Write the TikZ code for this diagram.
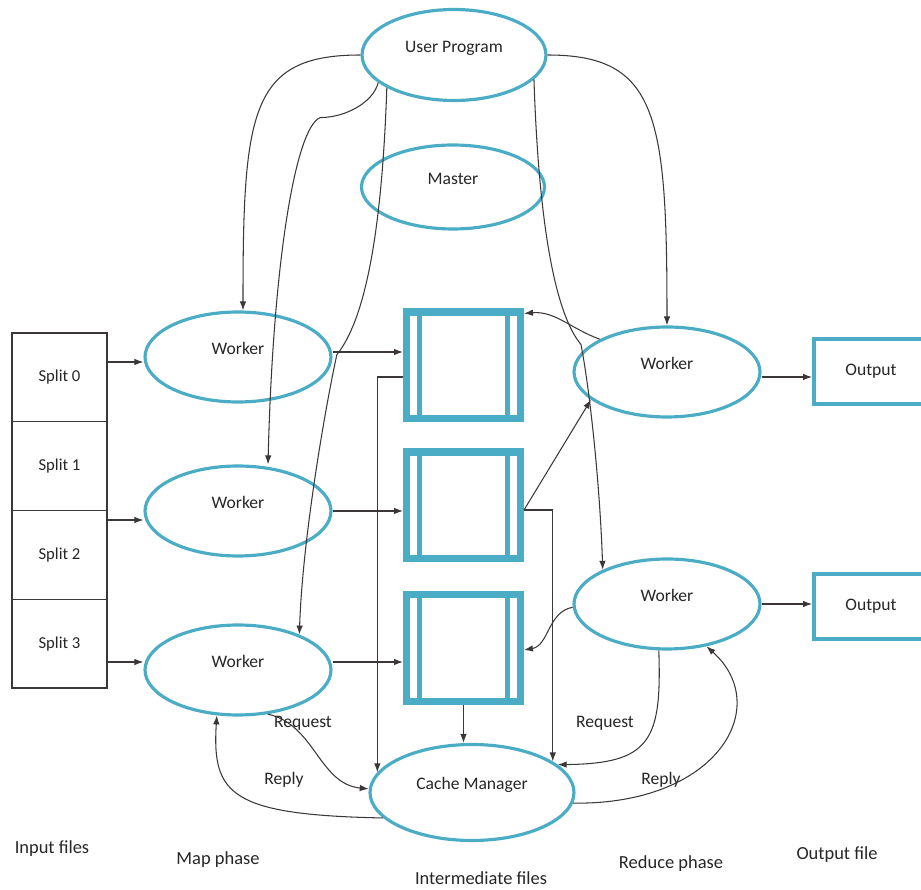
\documentclass[tikz,border=0pt]{standalone}
\usepackage{fontspec}
\setmainfont{Carlito}
\usetikzlibrary{positioning,shapes.geometric,arrows.meta}
\definecolor{mrblue}{RGB}{75,172,198}
\definecolor{mrline}{RGB}{60,55,55}

\begin{document}
\begin{tikzpicture}[x=0.02cm, y=0.02cm,
    every node/.style={font=\fontsize{10}{12}\selectfont, text=black!85},
    proc/.style={ellipse, draw=mrblue, line width=1.8pt, minimum width=3.72cm, minimum height=1.8cm,
      inner sep=0pt, text height=0.2cm, text depth=0.3cm},
    split/.style={rectangle, draw=mrline, line width=0.8pt, minimum width=1.9cm, minimum height=1.775cm,
      outer sep=0pt, font=\fontsize{9.5}{11}\selectfont},
    interm/.style={rectangle, draw=mrblue, line width=4pt, minimum width=2.28cm, minimum height=2.14cm, inner sep=0pt,
      path picture={\draw[mrblue, line width=3.4pt]
        ([xshift=0.26cm]path picture bounding box.north west) -- ([xshift=0.26cm]path picture bounding box.south west)
        ([xshift=-0.26cm]path picture bounding box.north east) -- ([xshift=-0.26cm]path picture bounding box.south east);}},
    outbox/.style={rectangle, draw=mrblue, line width=2.2pt, minimum width=2.28cm, minimum height=1.3cm},
    phase/.style={font=\fontsize{10.5}{12}\selectfont},
    arr/.style={draw=mrline, line width=0.6pt, -{Latex[length=1.8mm,width=1.3mm]}}]
  \useasboundingbox (0,0) rectangle (921,890);

  \node[proc, minimum width=3.68cm, minimum height=1.82cm] (up) at (454,835) {User Program};
  \node[proc, minimum width=3.66cm, minimum height=1.68cm] (master) at (453,703) {Master};

  \node[split] (s0) at (59.5,512.6) {Split 0};
  \node[split, below=0pt of s0] (s1) {Split 1};
  \node[split, below=0pt of s1] (s2) {Split 2};
  \node[split, below=0pt of s2] (s3) {Split 3};

  \node[proc] (w1) at (238,533) {Worker};
  \node[proc] (w2) at (238,379) {Worker};
  \node[proc] (w3) at (238,220) {Worker};

  \foreach \n/\y in {b1/524.5, b2/384.5, b3/242}
    \node[interm] (\n) at (463.5,\y) {};

  \node[proc] (rw1) at (667,518) {Worker};
  \node[proc] (rw2) at (667,286) {Worker};
  \node[outbox] (o1) at (871,518.5) {Output};
  \node[outbox] (o2) at (871,283.5) {Output};

  \node[proc, minimum width=4.08cm, minimum height=1.92cm] (cm) at (472,97.5) {Cache Manager};

  \node (reqL) at (303,166.5) {Request};
  \node (repL) at (284,110) {Reply};
  \node (reqR) at (605,166.5) {Request};
  \node (repR) at (661,110) {Reply};

  \node[phase] (inp) at (52,41) {Input files};
  \node[phase] (mapp) at (218,30) {Map phase};
  \node[phase] (intf) at (481,11.5) {Intermediate files};
  \node[phase] (redp) at (671,26.5) {Reduce phase};
  \node[phase] (outf) at (837,35) {Output file};

  % splits to map workers
  \draw[arr] ([yshift=-0.1cm]w1.west -| s0.east) -- ([yshift=-0.1cm]w1.west);
  \draw[arr] ([yshift=-0.18cm]w2.west -| s2.east) -- ([yshift=-0.18cm]w2.west);
  \draw[arr] ([yshift=0.16cm]w3.west -| s3.east) -- ([yshift=0.16cm]w3.west);

  % map workers to intermediate files
  \draw[arr] ([yshift=0.1cm]w1.east) -- ([yshift=0.1cm]w1.east -| b1.west);
  \draw[arr] (w2.east) -- (w2.east -| b2.west);
  \draw[arr] ([yshift=0.16cm]w3.east) -- ([yshift=0.16cm]w3.east -| b3.west);

  % intermediate files to cache manager and reducer
  \draw[arr] ([yshift=-0.23cm]b1.west) -| (cm.168);
  \draw[arr] ([yshift=-0.09cm]b2.east) -| (cm.21);
  \draw[arr] (b3.south) -- (b3.south |- cm.north);
  \draw[arr] ([yshift=-0.09cm]b2.east) -- (rw1.200);

  % reducers back to the files
  \draw[arr] (rw1.154) to[out=160,in=5] ([yshift=-0.1cm]b1.north east);
  \draw[arr] (rw2.182) to[out=190,in=10] ([yshift=-0.04cm]b3.east);

  % user program forks the workers
  \draw[arr] (up.west) .. controls +(-110,0) and +(0,200) .. ([xshift=0.1cm]w1.north);
  \draw[arr] (up.200) .. controls +(-5,-20) and +(25,0) .. ++(-58,-35)
    .. controls +(-25,-10) and +(5,200) .. ([xshift=0.6cm]w2.north);
  \draw[arr] (up.206) .. controls +(-5,-147) and +(28,35) .. ++(-50,-267)
    .. controls +(-12,-55) and +(3,94) .. (w3.30);
  \draw[arr] (up.east) .. controls +(110,0) and +(0,210) .. (rw1.north);
  \draw[arr] (up.343) .. controls +(5,-150) and +(-25,30) .. ++(47,-265)
    .. controls +(8,-40) and +(-3,90) .. (rw2.152);

  % request / reply
  \draw[arr] (w3.304) .. controls +(47,-10) and +(-50,5) .. (cm.178);
  \draw[arr] (cm.196) .. controls +(-153,3) and +(-5,-79) .. (w3.245);
  \draw[arr] (rw2.260) .. controls +(3,-90) and +(93,1) .. (cm.18);
  \draw[arr] (cm.354) .. controls +(145,-2) and +(67,-60) .. (rw2.313);

  % reducers to output
  \draw[arr] ([yshift=-0.1cm]rw1.east) -- ([yshift=-0.1cm]rw1.east -| o1.west);
  \draw[arr] (rw2.east) -- (rw2.east -| o2.west);
\end{tikzpicture}
\end{document}
